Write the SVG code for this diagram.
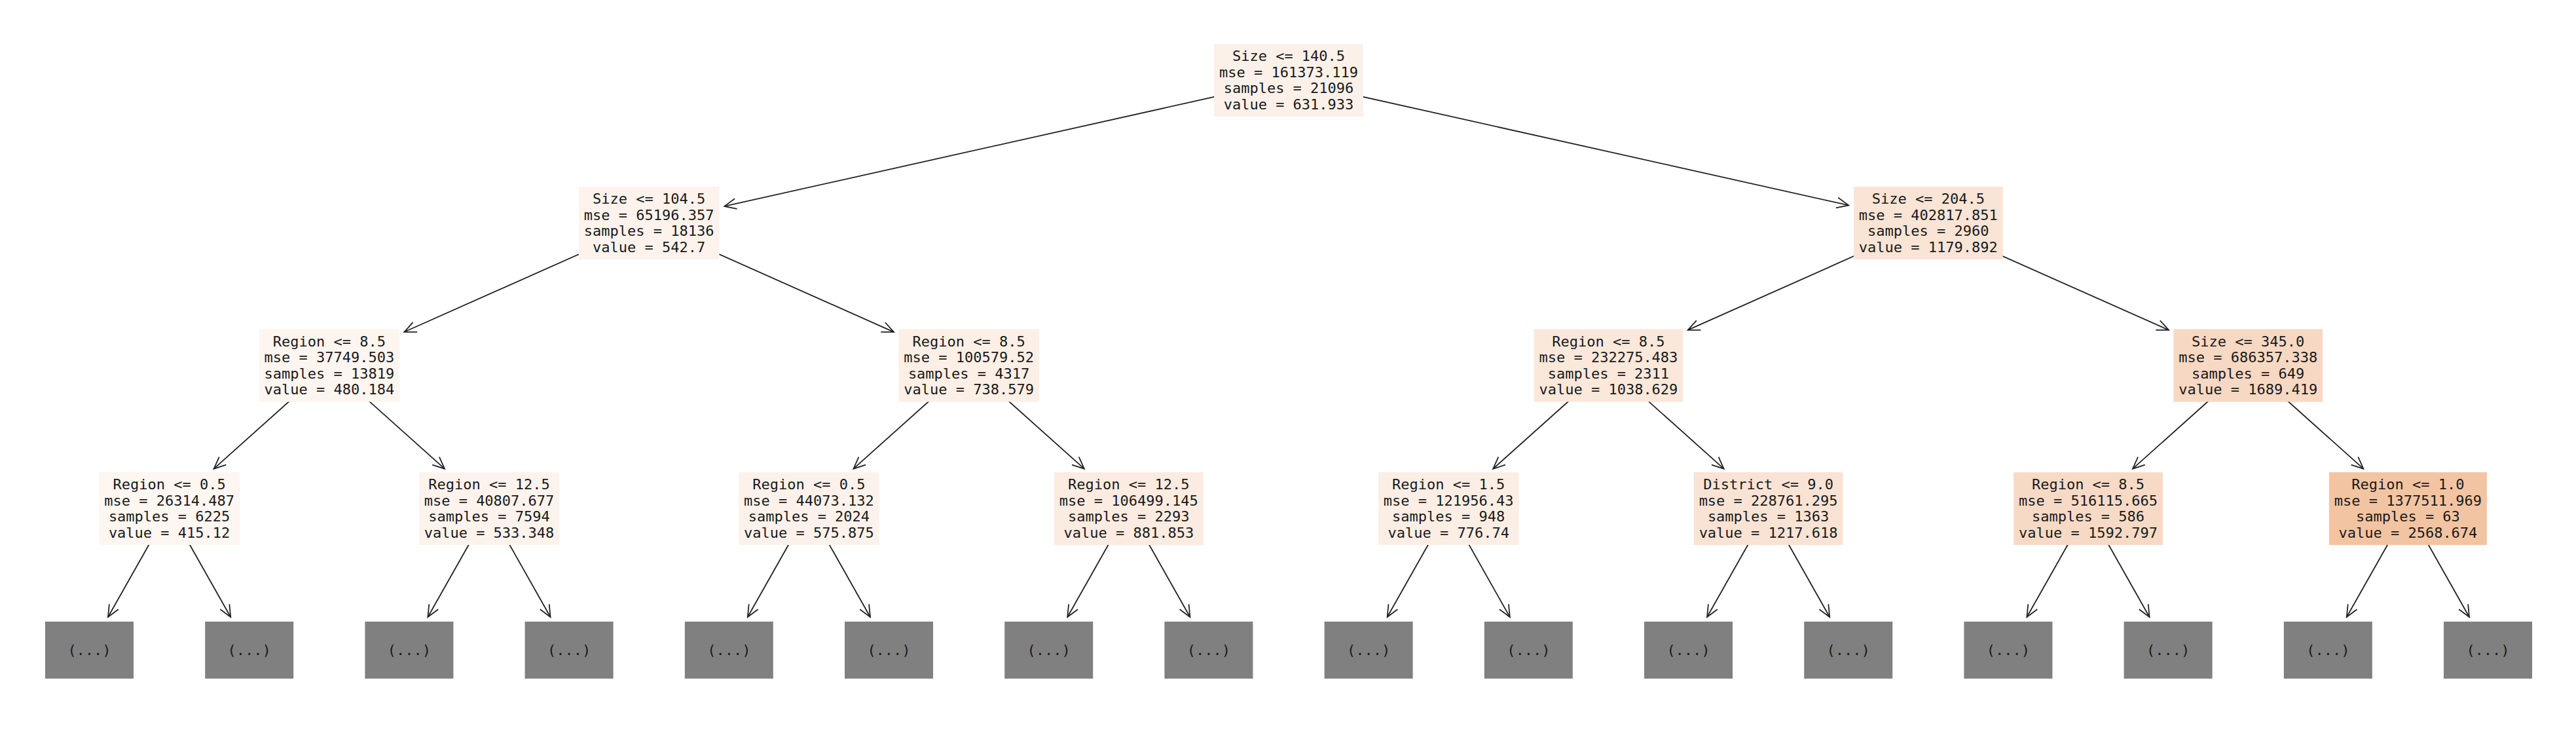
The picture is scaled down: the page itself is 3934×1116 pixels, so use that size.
<svg xmlns="http://www.w3.org/2000/svg" width="3934" height="1116" viewBox="0 0 3934 1116">
<style>
.t{font-family:"DejaVu Sans Mono","Liberation Mono",monospace;font-size:22px;text-anchor:middle;fill:#1a1a1a}
.e{stroke:#222;stroke-width:1.8;fill:none;marker-end:url(#ah)}
.leaf rect{fill:#808080}
</style>
<defs>
<marker id="ah" markerUnits="userSpaceOnUse" viewBox="-22 -11 24 22" markerWidth="24" markerHeight="22" refX="0" refY="0" orient="auto" overflow="visible">
<path d="M-18,-8 L0,0 L-18,8" fill="none" stroke="#222" stroke-width="1.8"/>
</marker>
</defs>
<rect width="3934" height="1116" fill="#fff"/>
<g id="connectors">
<line class="e" x1="1968" y1="122.5" x2="1106.3" y2="314.9"/>
<line class="e" x1="1968" y1="122.5" x2="2823.1" y2="313.4"/>
<line class="e" x1="991.2" y1="340.5" x2="617.4" y2="506.8"/>
<line class="e" x1="991.2" y1="340.5" x2="1365" y2="506.9"/>
<line class="e" x1="2944.8" y1="340.5" x2="2577.6" y2="503.9"/>
<line class="e" x1="2944.8" y1="340.5" x2="3312" y2="503.9"/>
<line class="e" x1="502.8" y1="558" x2="326.6" y2="715.7"/>
<line class="e" x1="502.8" y1="558" x2="679" y2="715.7"/>
<line class="e" x1="1479.6" y1="558" x2="1303.4" y2="715.7"/>
<line class="e" x1="1479.6" y1="558" x2="1655.8" y2="715.7"/>
<line class="e" x1="2456.4" y1="558" x2="2280.2" y2="715.7"/>
<line class="e" x1="2456.4" y1="558" x2="2632.6" y2="715.7"/>
<line class="e" x1="3433.2" y1="558" x2="3257" y2="715.7"/>
<line class="e" x1="3433.2" y1="558" x2="3609.4" y2="715.7"/>
<line class="e" x1="258.6" y1="776.5" x2="165" y2="942"/>
<line class="e" x1="258.6" y1="776.5" x2="352.2" y2="942"/>
<line class="e" x1="747" y1="776.5" x2="653.4" y2="942"/>
<line class="e" x1="747" y1="776.5" x2="840.6" y2="942"/>
<line class="e" x1="1235.4" y1="776.5" x2="1141.8" y2="942"/>
<line class="e" x1="1235.4" y1="776.5" x2="1329" y2="942"/>
<line class="e" x1="1723.8" y1="776.5" x2="1630.2" y2="942"/>
<line class="e" x1="1723.8" y1="776.5" x2="1817.4" y2="942"/>
<line class="e" x1="2212.2" y1="776.5" x2="2118.6" y2="942"/>
<line class="e" x1="2212.2" y1="776.5" x2="2305.8" y2="942"/>
<line class="e" x1="2700.6" y1="776.5" x2="2607" y2="942"/>
<line class="e" x1="2700.6" y1="776.5" x2="2794.2" y2="942"/>
<line class="e" x1="3189" y1="776.5" x2="3095.4" y2="942"/>
<line class="e" x1="3189" y1="776.5" x2="3282.6" y2="942"/>
<line class="e" x1="3677.4" y1="776.5" x2="3583.8" y2="942"/>
<line class="e" x1="3677.4" y1="776.5" x2="3771" y2="942"/>
</g>
<g id="n0"><rect x="1854.1" y="67" width="227.8" height="111" fill="#fcf1e9"/>
<text class="t" x="1968" y="93">Size &lt;= 140.5</text><text class="t" x="1968" y="117.5">mse = 161373.119</text><text class="t" x="1968" y="142">samples = 21096</text><text class="t" x="1968" y="166.5">value = 631.933</text></g>
<g id="n1"><rect x="883.9" y="285" width="214.6" height="111" fill="#fdf3ec"/>
<text class="t" x="991.2" y="311">Size &lt;= 104.5</text><text class="t" x="991.2" y="335.5">mse = 65196.357</text><text class="t" x="991.2" y="360">samples = 18136</text><text class="t" x="991.2" y="384.5">value = 542.7</text></g>
<g id="n2"><rect x="2830.9" y="285" width="227.8" height="111" fill="#f9e4d5"/>
<text class="t" x="2944.8" y="311">Size &lt;= 204.5</text><text class="t" x="2944.8" y="335.5">mse = 402817.851</text><text class="t" x="2944.8" y="360">samples = 2960</text><text class="t" x="2944.8" y="384.5">value = 1179.892</text></g>
<g id="n3"><rect x="395.5" y="502.5" width="214.6" height="111" fill="#fdf5ef"/>
<text class="t" x="502.8" y="528.5">Region &lt;= 8.5</text><text class="t" x="502.8" y="553">mse = 37749.503</text><text class="t" x="502.8" y="577.5">samples = 13819</text><text class="t" x="502.8" y="602">value = 480.184</text></g>
<g id="n4"><rect x="1372.3" y="502.5" width="214.6" height="111" fill="#fcefe5"/>
<text class="t" x="1479.6" y="528.5">Region &lt;= 8.5</text><text class="t" x="1479.6" y="553">mse = 100579.52</text><text class="t" x="1479.6" y="577.5">samples = 4317</text><text class="t" x="1479.6" y="602">value = 738.579</text></g>
<g id="n5"><rect x="2342.5" y="502.5" width="227.8" height="111" fill="#fae8da"/>
<text class="t" x="2456.4" y="528.5">Region &lt;= 8.5</text><text class="t" x="2456.4" y="553">mse = 232275.483</text><text class="t" x="2456.4" y="577.5">samples = 2311</text><text class="t" x="2456.4" y="602">value = 1038.629</text></g>
<g id="n6"><rect x="3319.3" y="502.5" width="227.8" height="111" fill="#f7d8c2"/>
<text class="t" x="3433.2" y="528.5">Size &lt;= 345.0</text><text class="t" x="3433.2" y="553">mse = 686357.338</text><text class="t" x="3433.2" y="577.5">samples = 649</text><text class="t" x="3433.2" y="602">value = 1689.419</text></g>
<g id="n7"><rect x="151.3" y="721" width="214.6" height="111" fill="#fdf6f1"/>
<text class="t" x="258.6" y="747">Region &lt;= 0.5</text><text class="t" x="258.6" y="771.5">mse = 26314.487</text><text class="t" x="258.6" y="796">samples = 6225</text><text class="t" x="258.6" y="820.5">value = 415.12</text></g>
<g id="n8"><rect x="639.7" y="721" width="214.6" height="111" fill="#fdf3ed"/>
<text class="t" x="747" y="747">Region &lt;= 12.5</text><text class="t" x="747" y="771.5">mse = 40807.677</text><text class="t" x="747" y="796">samples = 7594</text><text class="t" x="747" y="820.5">value = 533.348</text></g>
<g id="n9"><rect x="1128.1" y="721" width="214.6" height="111" fill="#fcf2eb"/>
<text class="t" x="1235.4" y="747">Region &lt;= 0.5</text><text class="t" x="1235.4" y="771.5">mse = 44073.132</text><text class="t" x="1235.4" y="796">samples = 2024</text><text class="t" x="1235.4" y="820.5">value = 575.875</text></g>
<g id="n10"><rect x="1609.9" y="721" width="227.8" height="111" fill="#fbebe0"/>
<text class="t" x="1723.8" y="747">Region &lt;= 12.5</text><text class="t" x="1723.8" y="771.5">mse = 106499.145</text><text class="t" x="1723.8" y="796">samples = 2293</text><text class="t" x="1723.8" y="820.5">value = 881.853</text></g>
<g id="n11"><rect x="2104.9" y="721" width="214.6" height="111" fill="#fbeee4"/>
<text class="t" x="2212.2" y="747">Region &lt;= 1.5</text><text class="t" x="2212.2" y="771.5">mse = 121956.43</text><text class="t" x="2212.2" y="796">samples = 948</text><text class="t" x="2212.2" y="820.5">value = 776.74</text></g>
<g id="n12"><rect x="2586.7" y="721" width="227.8" height="111" fill="#f9e3d4"/>
<text class="t" x="2700.6" y="747">District &lt;= 9.0</text><text class="t" x="2700.6" y="771.5">mse = 228761.295</text><text class="t" x="2700.6" y="796">samples = 1363</text><text class="t" x="2700.6" y="820.5">value = 1217.618</text></g>
<g id="n13"><rect x="3075.1" y="721" width="227.8" height="111" fill="#f7dac6"/>
<text class="t" x="3189" y="747">Region &lt;= 8.5</text><text class="t" x="3189" y="771.5">mse = 516115.665</text><text class="t" x="3189" y="796">samples = 586</text><text class="t" x="3189" y="820.5">value = 1592.797</text></g>
<g id="n14"><rect x="3556.9" y="721" width="241" height="111" fill="#f3c4a2"/>
<text class="t" x="3677.4" y="747">Region &lt;= 1.0</text><text class="t" x="3677.4" y="771.5">mse = 1377511.969</text><text class="t" x="3677.4" y="796">samples = 63</text><text class="t" x="3677.4" y="820.5">value = 2568.674</text></g>
<g id="l0" class="leaf"><rect x="69" y="949" width="135" height="87"/><text class="t" x="136.5" y="1000">(...)</text></g>
<g id="l1" class="leaf"><rect x="313.2" y="949" width="135" height="87"/><text class="t" x="380.7" y="1000">(...)</text></g>
<g id="l2" class="leaf"><rect x="557.4" y="949" width="135" height="87"/><text class="t" x="624.9" y="1000">(...)</text></g>
<g id="l3" class="leaf"><rect x="801.6" y="949" width="135" height="87"/><text class="t" x="869.1" y="1000">(...)</text></g>
<g id="l4" class="leaf"><rect x="1045.8" y="949" width="135" height="87"/><text class="t" x="1113.3" y="1000">(...)</text></g>
<g id="l5" class="leaf"><rect x="1290" y="949" width="135" height="87"/><text class="t" x="1357.5" y="1000">(...)</text></g>
<g id="l6" class="leaf"><rect x="1534.2" y="949" width="135" height="87"/><text class="t" x="1601.7" y="1000">(...)</text></g>
<g id="l7" class="leaf"><rect x="1778.4" y="949" width="135" height="87"/><text class="t" x="1845.9" y="1000">(...)</text></g>
<g id="l8" class="leaf"><rect x="2022.6" y="949" width="135" height="87"/><text class="t" x="2090.1" y="1000">(...)</text></g>
<g id="l9" class="leaf"><rect x="2266.8" y="949" width="135" height="87"/><text class="t" x="2334.3" y="1000">(...)</text></g>
<g id="l10" class="leaf"><rect x="2511" y="949" width="135" height="87"/><text class="t" x="2578.5" y="1000">(...)</text></g>
<g id="l11" class="leaf"><rect x="2755.2" y="949" width="135" height="87"/><text class="t" x="2822.7" y="1000">(...)</text></g>
<g id="l12" class="leaf"><rect x="2999.4" y="949" width="135" height="87"/><text class="t" x="3066.9" y="1000">(...)</text></g>
<g id="l13" class="leaf"><rect x="3243.6" y="949" width="135" height="87"/><text class="t" x="3311.1" y="1000">(...)</text></g>
<g id="l14" class="leaf"><rect x="3487.8" y="949" width="135" height="87"/><text class="t" x="3555.3" y="1000">(...)</text></g>
<g id="l15" class="leaf"><rect x="3732" y="949" width="135" height="87"/><text class="t" x="3799.5" y="1000">(...)</text></g>
</svg>
